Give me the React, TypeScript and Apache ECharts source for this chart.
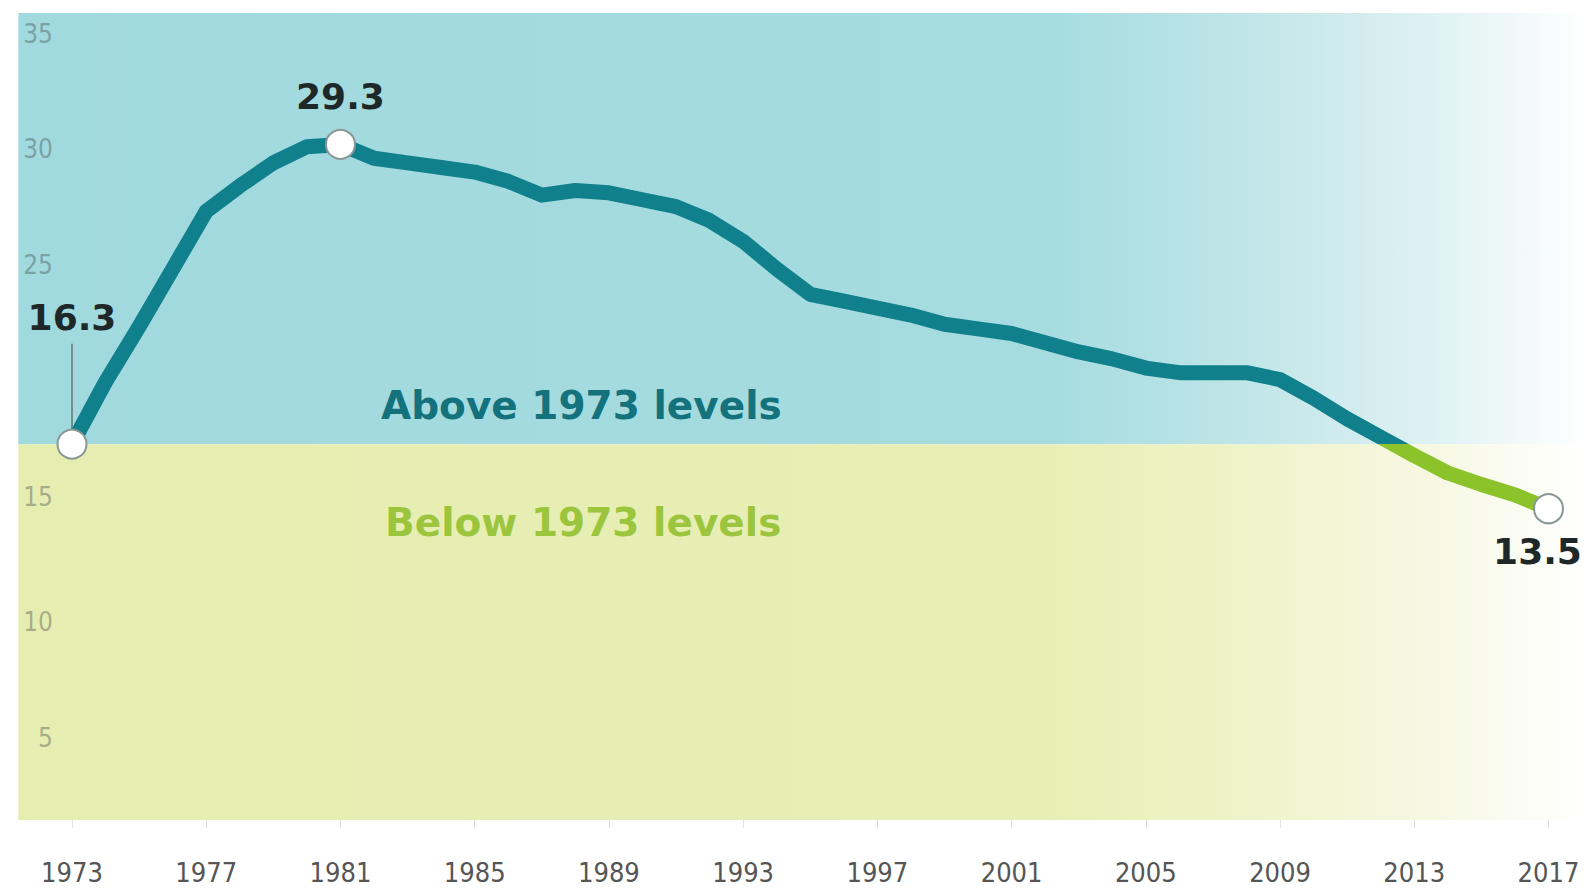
import React, { useEffect, useRef } from "react";
import * as echarts from "echarts";

const years = [
  1973, 1974, 1975, 1976, 1977, 1978, 1979, 1980, 1981, 1982, 1983, 1984, 1985, 1986, 1987,
  1988, 1989, 1990, 1991, 1992, 1993, 1994, 1995, 1996, 1997, 1998, 1999, 2000, 2001, 2002,
  2003, 2004, 2005, 2006, 2007, 2008, 2009, 2010, 2011, 2012, 2013, 2014, 2015, 2016, 2017,
];
const values = [
  16.3, 19.0, 21.4, 23.9, 26.4, 27.5, 28.5, 29.2, 29.3, 28.7, 28.5, 28.3, 28.1, 27.7, 27.1,
  27.3, 27.2, 26.9, 26.6, 26.0, 25.1, 23.9, 22.8, 22.5, 22.2, 21.9, 21.5, 21.3, 21.1, 20.7,
  20.3, 20.0, 19.6, 19.4, 19.4, 19.4, 19.1, 18.3, 17.4, 16.6, 15.8, 15.05, 14.55, 14.1, 13.5,
];
const xTickLabels = [1973, 1977, 1981, 1985, 1989, 1993, 1997, 2001, 2005, 2009, 2013, 2017];
const yTickLabels = [5, 10, 15, 25, 30, 35];
const yGridValues = [0, 5, 10, 15, 20, 25, 30, 35];
const regionLabels = ["Above 1973 levels", "Below 1973 levels"];

const threshold = values[0];
const BG_X_MIN = 1971.4;
const BG_X_MAX = 2018.1;
const Y_MAX = 35;

const TEAL = "#10808c";
const GREEN = "#8cc22a";
const Y_LABEL_COLOR = "rgba(70,80,80,0.42)";

const narrowFont = "'Liberation Sans Narrow', 'DejaVu Sans Condensed', 'Roboto', sans-serif";
const boldFont = "'DejaVu Sans', 'Noto Sans', sans-serif";

export default function App() {
  const ref = useRef<HTMLDivElement>(null);

  useEffect(() => {
    if (!ref.current) return;
    const chart = echarts.init(ref.current, null, { renderer: "svg" });

    const lineData = years.map((y, i) => [y, values[i]]);
    const maxIdx = values.indexOf(Math.max(...values));
    const markerIdx = [0, maxIdx, values.length - 1];
    const labelPos = [
      { position: "top", distance: 93 },
      { position: "top", distance: 14 },
      { position: "bottom", distance: 9, offset: [-11, 0] },
    ];
    const markerData = markerIdx.map((idx, k) => ({
      value: [years[idx], values[idx]],
      label: labelPos[k],
    }));

    const blueGrad = new echarts.graphic.LinearGradient(1, 0, 0, 0, [
      { offset: 0, color: "#ffffff" },
      { offset: 0.1, color: "#def1f2" },
      { offset: 0.22, color: "#bfe5e8" },
      { offset: 0.34, color: "#a6dce0" },
      { offset: 1, color: "#a0d9de" },
    ]);
    const yellowGrad = new echarts.graphic.LinearGradient(1, 0, 0, 0, [
      { offset: 0, color: "#ffffff" },
      { offset: 0.1, color: "#f6f8e2" },
      { offset: 0.22, color: "#eef3c8" },
      { offset: 0.34, color: "#e8efb6" },
      { offset: 1, color: "#e6edb0" },
    ]);
    const gridGrad = new echarts.graphic.LinearGradient(1, 0, 0, 0, [
      { offset: 0, color: "rgba(60,90,90,0)" },
      { offset: 0.3, color: "rgba(60,90,90,0.13)" },
      { offset: 1, color: "rgba(60,90,90,0.16)" },
    ]);
    const bandStyles = [blueGrad, yellowGrad];

    const bands = [
      [BG_X_MIN, threshold, BG_X_MAX, Y_MAX],
      [BG_X_MIN, 0, BG_X_MAX, threshold],
    ];
    const gridData = yGridValues.map((v) => [BG_X_MIN, v, BG_X_MAX]);
    const leader = [[years[0], threshold + 0.45, threshold + 4.35]];

    const yRich = (pad: number) => ({
      padding: [pad, 0, 0, 0],
      fontSize: 26,
      fontFamily: narrowFont,
      color: Y_LABEL_COLOR,
    });

    const option: any = {
      animation: false,
      backgroundColor: "#ffffff",
      grid: { left: 72, right: 38.5, top: 13, bottom: 71, containLabel: false },
      xAxis: {
        type: "value",
        min: years[0],
        max: years[years.length - 1],
        interval: 4,
        z: 2,
        axisLine: { show: false },
        splitLine: { show: false },
        axisTick: {
          show: true,
          length: 8,
          lineStyle: { color: "#e2e2e2", width: 1 },
        },
        axisLabel: {
          margin: 39,
          fontSize: 27,
          color: "#555555",
          fontFamily: narrowFont,
          formatter: (v: number) => (xTickLabels.indexOf(v) >= 0 ? String(v) : ""),
        },
      },
      yAxis: {
        type: "value",
        min: 0,
        max: Y_MAX,
        interval: 5,
        z: 2,
        axisLine: { show: false },
        axisTick: { show: false },
        splitLine: { show: false },
        axisLabel: {
          margin: 19,
          verticalAlign: "top",
          fontSize: 26,
          color: Y_LABEL_COLOR,
          fontFamily: narrowFont,
          formatter: (v: number) =>
            yTickLabels.indexOf(v) < 0
              ? ""
              : v > 15
              ? `{hi|${v}}`
              : v === 15
              ? `{mid|${v}}`
              : `{lo|${v}}`,
          rich: { hi: yRich(8), mid: yRich(10), lo: yRich(20) },
        },
      },
      series: [
        {
          type: "custom",
          z: 1,
          silent: true,
          clip: false,
          data: bands,
          renderItem: (params: any, api: any) => {
            const p0 = api.coord([api.value(0), api.value(3)]);
            const p1 = api.coord([api.value(2), api.value(1)]);
            return {
              type: "rect",
              shape: { x: p0[0], y: p0[1], width: p1[0] - p0[0], height: p1[1] - p0[1] },
              style: { fill: bandStyles[params.dataIndex] },
            };
          },
        },
        {
          type: "custom",
          z: 2,
          silent: true,
          clip: false,
          data: gridData,
          renderItem: (params: any, api: any) => {
            const a = api.coord([api.value(0), api.value(1)]);
            const b = api.coord([api.value(2), api.value(1)]);
            return {
              type: "line",
              shape: { x1: a[0], y1: a[1], x2: b[0], y2: b[1] },
              style: { stroke: gridGrad, lineWidth: 2 },
            };
          },
        },
        {
          type: "custom",
          z: 3,
          silent: true,
          clip: false,
          data: leader,
          renderItem: (params: any, api: any) => {
            const a = api.coord([api.value(0), api.value(1)]);
            const b = api.coord([api.value(0), api.value(2)]);
            return {
              type: "line",
              shape: { x1: a[0], y1: a[1], x2: b[0], y2: b[1] },
              style: { stroke: "#6a7474", lineWidth: 1.5 },
            };
          },
        },
        {
          type: "line",
          data: lineData,
          z: 4,
          clip: false,
          showSymbol: false,
          symbol: "none",
          smooth: false,
          lineStyle: { width: 15, cap: "round", join: "round", color: TEAL },
        },
        {
          type: "scatter",
          data: markerData,
          z: 5,
          clip: false,
          symbol: "circle",
          symbolSize: 29,
          itemStyle: { color: "#ffffff", borderColor: "#8a9696", borderWidth: 2, opacity: 1 },
          label: {
            show: true,
            fontSize: 36,
            fontWeight: "bold",
            fontFamily: boldFont,
            color: "#1e2828",
            formatter: (p: any) => p.value[1].toFixed(1),
          },
        },
      ],
      graphic: {
        elements: [
          {
            type: "text",
            left: 381,
            top: 386,
            z: 100,
            style: {
              text: regionLabels[0],
              fontSize: 39,
              fontWeight: "bold",
              fontFamily: boldFont,
              fill: "#14727c",
            },
          },
          {
            type: "text",
            left: 385,
            top: 503,
            z: 100,
            style: {
              text: regionLabels[1],
              fontSize: 39,
              fontWeight: "bold",
              fontFamily: boldFont,
              fill: "#9cc53e",
            },
          },
        ],
      },
    };

    chart.setOption(option);

    // split the line colour at the 1973 level, using the chart's own y scale
    try {
      const yTop = chart.convertToPixel({ gridIndex: 0 }, [years[0], Y_MAX])[1];
      const yBot = chart.convertToPixel({ gridIndex: 0 }, [years[0], 0])[1];
      const off = (Y_MAX - threshold) / Y_MAX;
      const grad = new echarts.graphic.LinearGradient(
        0, yTop, 0, yBot,
        [
          { offset: 0, color: TEAL },
          { offset: off, color: TEAL },
          { offset: off, color: GREEN },
          { offset: 1, color: GREEN },
        ],
        true
      );
      chart.setOption({ series: [{}, {}, {}, { lineStyle: { color: grad } }, {}] });
    } catch (e) {
      // keep teal line if conversion fails
    }

    return () => chart.dispose();
  }, []);

  return (
    <div
      ref={ref}
      style={{ position: "fixed", left: 0, top: 0, width: 1587, height: 891, background: "#fff" }}
    />
  );
}
